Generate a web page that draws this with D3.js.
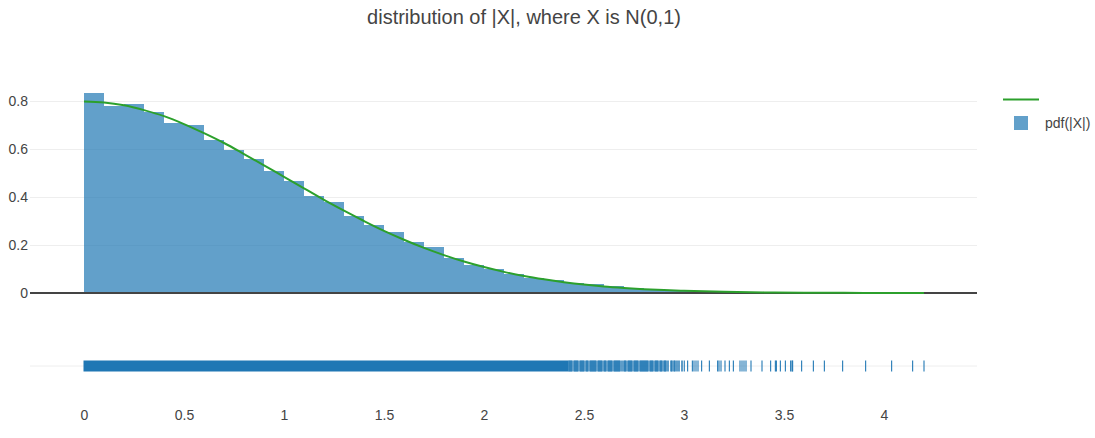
<!DOCTYPE html>
<html>
<head>
<meta charset="utf-8">
<script src="https://cdn.jsdelivr.net/npm/d3@7"></script>
<style>
  html, body { margin: 0; padding: 0; background: #fff; }
  svg { display: block; font-family: "Liberation Sans", Arial, sans-serif; }
</style>
</head>
<body>
<svg id="chart" width="1095" height="438"></svg>
<script>
// ---- data ----
const titleText = "distribution of |X|, where X is N(0,1)";
const seriesName = "pdf(|X|)";
const binWidth = 0.1;
const binStarts = [0.0,0.1,0.2,0.3,0.4,0.5,0.6,0.7,0.8,0.9,1.0,1.1,1.2,1.3,1.4,1.5,1.6,1.7,1.8,1.9,
                   2.0,2.1,2.2,2.3,2.4,2.5,2.6,2.7,2.8,2.9,3.0,3.1,3.2,3.3,3.4,3.5,3.6,3.7,3.8,3.9,4.0,4.1];
const binDensity = [0.833,0.780,0.787,0.754,0.707,0.702,0.637,0.596,0.558,0.508,
                    0.467,0.405,0.379,0.321,0.283,0.254,0.212,0.192,0.146,0.117,
                    0.100,0.081,0.062,0.055,0.042,0.038,0.029,0.022,0.015,0.012,
                    0.009,0.006,0.005,0.004,0.003,0.002,0.0015,0.001,0.001,0.0008,0.0005,0.0005];
const curveX = [0,0.1,0.2,0.3,0.4,0.5,0.6,0.7,0.8,0.9,1.0,1.1,1.2,1.3,1.4,1.5,1.6,1.7,1.8,1.9,
                2.0,2.1,2.2,2.3,2.4,2.5,2.6,2.7,2.8,2.9,3.0,3.2,3.4,3.6,3.8,4.0,4.2];
const curveY = [0.798,0.794,0.782,0.762,0.737,0.704,0.666,0.625,0.579,0.532,
                0.484,0.436,0.388,0.343,0.300,0.259,0.222,0.188,0.158,0.131,
                0.108,0.088,0.071,0.057,0.045,0.035,0.027,0.021,0.016,0.012,
                0.009,0.005,0.0025,0.0012,0.0006,0.0003,0.0001];
// rug: continuous dense band, then individual ticks
const rugDenseRange = [0, 2.42];
const rugTicks = [2.425,2.43,2.435,2.44,2.45,2.455,2.46,2.465,2.47,2.48,2.485,2.49,2.495,2.50,2.51,2.515,2.52,
                  2.53,2.535,2.54,2.545,2.55,2.555,2.56,2.57,2.575,2.58,2.585,2.59,2.60,2.605,2.61,2.62,2.625,
                  2.63,2.635,2.64,2.65,2.655,2.66,2.665,2.67,2.675,2.68,2.69,2.70,2.705,2.71,2.72,2.725,2.73,
                  2.735,2.74,2.75,2.755,2.76,2.765,2.77,2.78,2.785,2.79,2.795,
                  2.80,2.805,2.81,2.815,2.82,2.83,2.835,2.84,2.845,2.855,2.86,2.865,2.87,2.88,2.885,2.89,2.90,
                  2.905,2.91,2.92,2.935,2.94,2.95,2.955,2.965,2.975,2.99,
                  3.0015,3.018,3.042,3.05,3.06,3.07,3.088,3.127,3.168,3.175,3.185,3.205,3.227,3.247,
                  3.28,3.29,3.30,3.31,3.335,3.39,3.433,3.457,3.462,3.482,3.507,3.533,3.54,3.543,3.588,
                  3.647,3.702,3.793,3.908,4.038,4.143,4.20];
const xTicks = [0,0.5,1,1.5,2,2.5,3,3.5,4];
const xTickLabels = ["0","0.5","1","1.5","2","2.5","3","3.5","4"];
const yTicks = [0,0.2,0.4,0.6,0.8];
const yTickLabels = ["0","0.2","0.4","0.6","0.8"];
const xDomain = [-0.27, 4.465];
const yDomain = [0, 0.8667];

// ---- layout ----
const svg = d3.select("#chart");
const fontFam = "'Liberation Sans', Arial, sans-serif";
const plotL = 30, plotR = 977;
const mainTop = 85, mainBottom = 293;
const rugY = 366, rugHalf = 5.5;

const x = d3.scaleLinear().domain(xDomain).range([plotL, plotR]);
const y = d3.scaleLinear().domain(yDomain).range([mainBottom, mainTop]);

const textColor = "#444";
const blue = "rgb(31,119,180)";
const green = "rgb(44,160,44)";

// title
svg.append("text").attr("x", 524).attr("y", 24).attr("text-anchor", "middle")
  .attr("font-size", 20).attr("fill", textColor).text(titleText);

// y grid
const yAxis = d3.axisLeft(y).tickValues(yTicks).tickFormat((d, i) => yTickLabels[i])
  .tickSize(-(plotR - plotL)).tickPadding(2);
const gy = svg.append("g").attr("transform", `translate(${plotL},0)`).call(yAxis);
gy.select(".domain").remove();
gy.selectAll(".tick line").attr("stroke", "#eee").attr("stroke-width", 1);
gy.selectAll(".tick text").attr("font-size", 14).attr("fill", textColor)
  .attr("font-family", fontFam);

// histogram bars
svg.append("g").selectAll("rect").data(binStarts).join("rect")
  .attr("x", d => x(d))
  .attr("width", d => x(d + binWidth) - x(d))
  .attr("y", (d, i) => y(binDensity[i]))
  .attr("height", (d, i) => y(0) - y(binDensity[i]))
  .attr("fill", blue).attr("fill-opacity", 0.7)
  .attr("shape-rendering", "crispEdges");

// zero line
svg.append("line").attr("x1", plotL).attr("x2", plotR).attr("y1", y(0)).attr("y2", y(0))
  .attr("stroke", textColor).attr("stroke-width", 2);

// curve
const curveData = curveX.map((v, i) => [v, curveY[i]]);
svg.append("path").datum(curveData)
  .attr("d", d3.line().x(d => x(d[0])).y(d => y(d[1])).curve(d3.curveMonotoneX))
  .attr("fill", "none").attr("stroke", green).attr("stroke-width", 2);

// rug grid line
svg.append("line").attr("x1", plotL).attr("x2", plotR).attr("y1", rugY).attr("y2", rugY)
  .attr("stroke", "#eee").attr("stroke-width", 1);

// rug dense band
svg.append("rect").attr("x", x(rugDenseRange[0]) - 0.5)
  .attr("width", x(rugDenseRange[1]) - x(rugDenseRange[0]) + 1)
  .attr("y", rugY - rugHalf).attr("height", rugHalf * 2)
  .attr("fill", blue);

// rug ticks
svg.append("g").selectAll("line").data(rugTicks).join("line")
  .attr("x1", d => x(d)).attr("x2", d => x(d))
  .attr("y1", rugY - rugHalf).attr("y2", rugY + rugHalf)
  .attr("stroke", blue).attr("stroke-width", d => d < 3 ? 1.6 : 1.2)
  .attr("stroke-opacity", 0.9);

// x axis labels (bottom)
const xAxis = d3.axisBottom(x).tickValues(xTicks).tickFormat((d, i) => xTickLabels[i])
  .tickSize(0).tickPadding(0);
const gx = svg.append("g").attr("transform", `translate(0,407)`).call(xAxis);
gx.select(".domain").remove();
gx.selectAll(".tick text").attr("font-size", 14).attr("fill", textColor)
  .attr("font-family", fontFam).attr("dy", "0.71em").attr("y", 3);

// legend
const lg = svg.append("g");
lg.append("line").attr("x1", 1003).attr("x2", 1039).attr("y1", 99.5).attr("y2", 99.5)
  .attr("stroke", green).attr("stroke-width", 2);
lg.append("rect").attr("x", 1014).attr("y", 116).attr("width", 14).attr("height", 14)
  .attr("fill", blue).attr("fill-opacity", 0.7);
lg.append("text").attr("x", 1045).attr("y", 128).attr("font-size", 14)
  .attr("fill", textColor).attr("font-family", fontFam).text(seriesName);
</script>
</body>
</html>
